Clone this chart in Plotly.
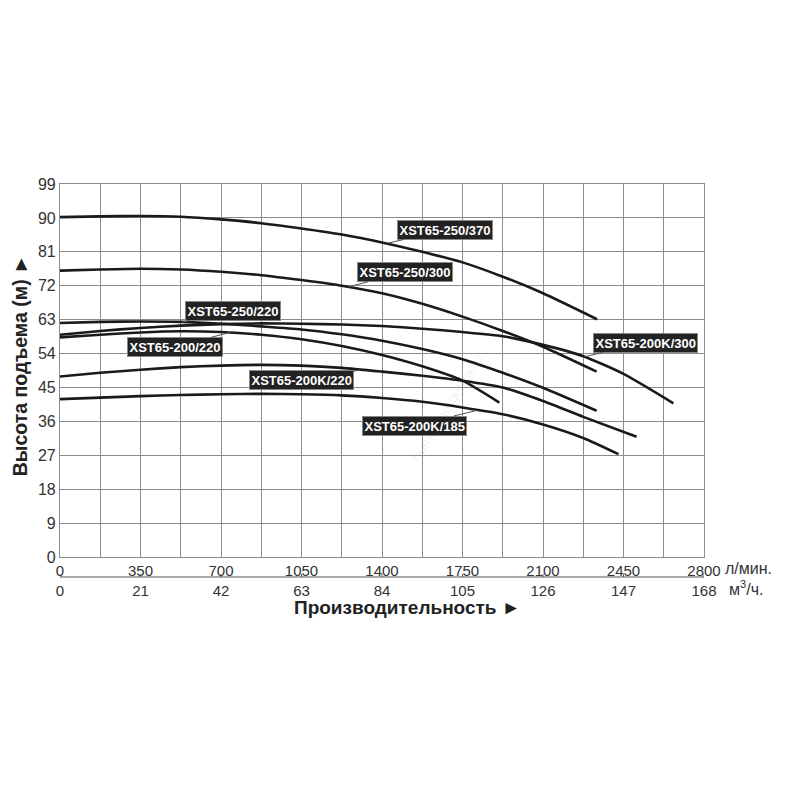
"""
Напорные характеристики насосов XST65 (высота подъема / производительность).
"""

import plotly.graph_objects as go

# Подача, л/мин, и напор, м, для каждой кривой
q_250_370 = [0, 175, 350, 525, 700, 875, 1050, 1225, 1400, 1575, 1750, 1925, 2100, 2335]
h_250_370 = [90.2, 90.4, 90.5, 90.3, 89.6, 88.6, 87.2, 85.6, 83.5, 81.0, 78.2, 74.4, 70.0, 63.1]

q_250_300 = [0, 175, 350, 525, 700, 875, 1050, 1225, 1400, 1575, 1750, 1925, 2100, 2333]
h_250_300 = [76.0, 76.3, 76.5, 76.3, 75.7, 74.8, 73.5, 72.0, 70.0, 67.2, 63.8, 60.0, 55.8, 49.2]

q_250_220 = [0, 175, 350, 525, 700, 875, 1050, 1225, 1400, 1575, 1750, 1925, 2100, 2333]
h_250_220 = [62.1, 62.4, 62.5, 62.4, 61.9, 61.2, 60.4, 59.1, 57.4, 55.2, 52.5, 48.9, 44.9, 38.8]

q_200k_300 = [0, 175, 350, 525, 700, 875, 1050, 1225, 1400, 1575, 1750, 1925, 2100, 2275, 2450, 2667]
h_200k_300 = [59.0, 60.0, 60.8, 61.4, 61.8, 62.0, 61.9, 61.7, 61.3, 60.6, 59.7, 58.6, 56.3, 53.3, 48.6, 40.8]

q_200_220 = [0, 175, 350, 525, 700, 875, 1050, 1225, 1400, 1575, 1750, 1910]
h_200_220 = [58.3, 59.0, 59.6, 59.9, 59.7, 59.0, 57.8, 56.0, 53.6, 50.6, 46.8, 41.0]

q_200k_220 = [0, 175, 350, 525, 700, 875, 1050, 1225, 1400, 1575, 1750, 1925, 2100, 2275, 2507]
h_200k_220 = [47.9, 48.9, 49.7, 50.4, 50.8, 51.0, 50.8, 50.2, 49.2, 48.1, 46.8, 45.0, 41.4, 37.2, 31.9]

q_200k_185 = [0, 175, 350, 525, 700, 875, 1050, 1225, 1400, 1575, 1750, 1925, 2100, 2275, 2428]
h_200k_185 = [41.9, 42.3, 42.7, 43.0, 43.2, 43.3, 43.2, 42.9, 42.2, 41.2, 39.7, 37.9, 35.2, 31.6, 27.3]

curves = [
    ("XST65-250/370", q_250_370, h_250_370),
    ("XST65-250/300", q_250_300, h_250_300),
    ("XST65-250/220", q_250_220, h_250_220),
    ("XST65-200K/300", q_200k_300, h_200k_300),
    ("XST65-200/220", q_200_220, h_200_220),
    ("XST65-200K/220", q_200k_220, h_200k_220),
    ("XST65-200K/185", q_200k_185, h_200k_185),
]

# Подписи осей: л/мин и м3/ч
ticks_lmin = [0, 350, 700, 1050, 1400, 1750, 2100, 2450, 2800]
ticks_m3h = [0, 21, 42, 63, 84, 105, 126, 147, 168]
ticks_h = [0, 9, 18, 27, 36, 45, 54, 63, 72, 81, 90, 99]

# Подписи кривых: точка на кривой и центр таблички
label_names = ["XST65-250/370", "XST65-250/300", "XST65-250/220", "XST65-200/220",
               "XST65-200K/220", "XST65-200K/185", "XST65-200K/300"]
label_point_q = [1426, 1254, 529, 739, 1304, 1812, 2283]
label_point_h = [83.3, 71.7, 62.3, 59.6, 49.6, 38.9, 53.2]
label_box_q = [1674, 1500, 753, 498, 1048, 1542, 2544]
label_box_h = [86.8, 75.6, 65.3, 55.8, 47.0, 34.9, 56.8]

FONT = "Liberation Sans"
GRID = "#8c8c8c"
TXT = "#333333"

fig = go.Figure()

for name, q, h in curves:
    fig.add_trace(go.Scatter(
        x=q, y=h, mode="lines", name=name,
        line=dict(color="#1a1a1a", width=2.6, shape="spline", smoothing=0.6),
        showlegend=False,
        hovertemplate="%{x} л/мин<br>%{y} м<extra>" + name + "</extra>",
    ))

annotations = []
for name, pq, ph, bq, bh in zip(label_names, label_point_q, label_point_h, label_box_q, label_box_h):
    annotations.append(dict(
        x=pq, y=ph, xref="x", yref="y",
        ax=bq, ay=bh, axref="x", ayref="y",
        text="<b>" + name + "</b>",
        showarrow=True, arrowhead=0, arrowwidth=1, arrowcolor="#555555",
        font=dict(family=FONT, size=13, color="white"),
        bgcolor="#222222", bordercolor="#888888", borderwidth=1, borderpad=1.5,
    ))

# единицы измерения справа от последних подписей
annotations.append(dict(
    text="л/мин.", xref="paper", yref="paper", x=1.03, y=-0.03,
    xanchor="left", yanchor="middle", showarrow=False,
    font=dict(family=FONT, size=16, color=TXT),
))
annotations.append(dict(
    text="м<sup>3</sup>/ч.", xref="paper", yref="paper", x=1.035, y=-0.083,
    xanchor="left", yanchor="middle", showarrow=False,
    font=dict(family=FONT, size=16, color=TXT),
))
# названия осей
annotations.append(dict(
    text="<b>Производительность ►</b>", xref="paper", yref="paper",
    x=0.539, y=-0.136, xanchor="center", yanchor="middle", showarrow=False,
    font=dict(family=FONT, size=19, color="#222222"),
))
annotations.append(dict(
    text="<b>Высота подъема (м) ►</b>", xref="paper", yref="paper",
    x=-0.063, y=0.515, xanchor="center", yanchor="middle", showarrow=False,
    textangle=-90, font=dict(family=FONT, size=19.5, color="#222222"),
))
# водяной знак
annotations.append(dict(
    text="home-energetika.ru", xref="paper", yref="paper",
    x=0.6, y=0.4, showarrow=False, textangle=-58,
    font=dict(family=FONT, size=14, color="rgba(0,0,0,0.07)"),
))

# разделитель между строками подписей оси X и короткие риски
shapes = [dict(type="line", xref="x", yref="paper", x0=0, x1=2800,
               y0=-0.0536, y1=-0.0536, line=dict(color="#555555", width=1))]
for t in ticks_lmin:
    shapes.append(dict(type="line", xref="x", yref="paper", x0=t, x1=t,
                       y0=-0.0536, y1=-0.046, line=dict(color="#555555", width=1)))

# поля учитывают 8px отступа страницы
fig.update_layout(
    width=800, height=800,
    margin=dict(l=52, r=104, t=176, b=251),
    paper_bgcolor="white", plot_bgcolor="white",
    font=dict(family=FONT, color=TXT),
    annotations=annotations,
    shapes=shapes,
)

fig.update_xaxes(
    range=[0, 2800],
    tickvals=ticks_lmin,
    ticktext=[f"{a}<br>{b}" for a, b in zip(ticks_lmin, ticks_m3h)],
    tickfont=dict(family=FONT, size=15, color=TXT),
    showgrid=True, gridcolor=GRID, gridwidth=1.2,
    minor=dict(dtick=175, tick0=0, showgrid=True, gridcolor=GRID, gridwidth=1.2),
    showline=True, linecolor=GRID, linewidth=1.2, mirror=True,
    zeroline=False, ticks="",
)
fig.update_yaxes(
    range=[0, 99],
    tickvals=ticks_h,
    tickfont=dict(family=FONT, size=16, color=TXT),
    showgrid=True, gridcolor=GRID, gridwidth=1.2,
    showline=True, linecolor=GRID, linewidth=1.2, mirror=True,
    zeroline=False, ticks="",
)

fig.write_html("out.html")
